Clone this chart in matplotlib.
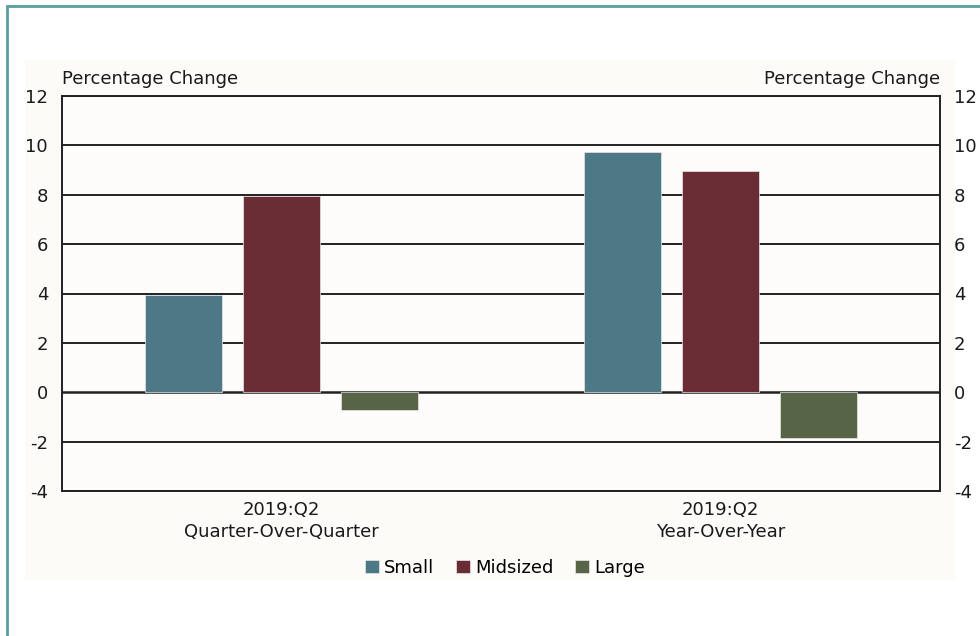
import numpy as np
import matplotlib.pyplot as plt
from matplotlib.patches import Rectangle

# values
groups = ["2019:Q2\nQuarter-Over-Quarter", "2019:Q2\nYear-Over-Year"]
series = ["Small", "Midsized", "Large"]
small = [3.92, 9.72]
midsized = [7.93, 8.95]
large = [-0.71, -1.85]
colors = ["#4d7886", "#6a2c35", "#576445"]
yticks = list(range(-4, 13, 2))

plt.rcParams['font.family'] = ['DejaVu Sans']

fig = plt.figure(figsize=(9.8, 6.36), dpi=100)
fig.patch.set_facecolor("white")

# outer teal frame (runs off the right and bottom edges) and light panel
fig.add_artist(Rectangle((7 / 980, -0.2), 1.2, 1.2 - 6 / 636, transform=fig.transFigure,
                         fill=False, edgecolor="#5a9ea0", linewidth=2))
fig.add_artist(Rectangle((25 / 980, 1 - 580 / 636), 930 / 980, 520 / 636, transform=fig.transFigure,
                         facecolor="#fcfbf8", edgecolor="none", zorder=0))

ax = fig.add_axes([62 / 980, 1 - 491 / 636, 878 / 980, 395 / 636])
ax.set_facecolor("#fdfcfa")

x = np.arange(len(groups))
w = 0.174
off = 0.223
for i, (name, vals) in enumerate(zip(series, [small, midsized, large])):
    ax.bar(x + (i - 1) * off, vals, w, color=colors[i], label=name, zorder=3,
           edgecolor="#e8e8e8", linewidth=0.5)

ax.set_ylim(-4, 12)
ax.set_xlim(-0.5, 1.5)
ax.set_yticks(yticks)
ax.set_yticklabels([str(t) for t in yticks])
for t in yticks:
    ax.axhline(t, color="#222222", linewidth=1.4 if t != 0 else 1.8, zorder=2)
ax.tick_params(axis="y", length=0, labelsize=13, pad=10, right=True, labelright=True,
               labelcolor="#1a1a1a")
ax.set_xticks(x)
ax.set_xticklabels(groups, fontsize=13, linespacing=1.3, color="#1a1a1a")
ax.tick_params(axis="x", length=0, pad=7)
for s in ax.spines.values():
    s.set_color("#222222")
    s.set_linewidth(1.4)

ax.text(0, 1.02, "Percentage Change", transform=ax.transAxes, fontsize=13, ha="left", va="bottom",
        color="#1a1a1a")
ax.text(1, 1.02, "Percentage Change", transform=ax.transAxes, fontsize=13, ha="right", va="bottom",
        color="#1a1a1a")

ax.legend(loc="center", bbox_to_anchor=(505 / 980, 1 - 568 / 636), bbox_transform=fig.transFigure,
          ncol=3, frameon=False, fontsize=13, handlelength=0.75, handleheight=0.75,
          handletextpad=0.3, columnspacing=1.2)

fig.savefig("out.png", dpi=100)
